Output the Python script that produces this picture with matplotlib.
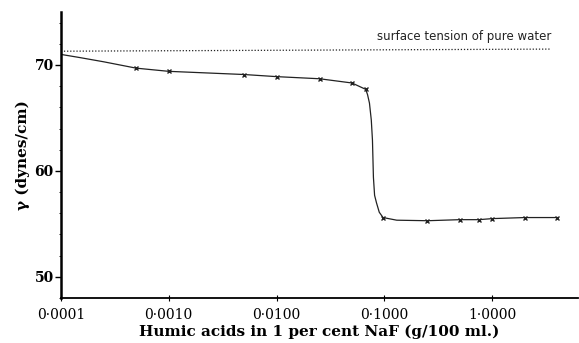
import numpy as np
import matplotlib
matplotlib.use("Agg")
from matplotlib import pyplot as plt
from matplotlib.ticker import FixedLocator, MultipleLocator

# measured points (crosses)
conc = [0.0005, 0.001, 0.005, 0.01, 0.025, 0.05, 0.067,
        0.097, 0.25, 0.5, 0.75, 1.0, 2.0, 4.0]
gamma = [69.7, 69.4, 69.1, 68.9, 68.7, 68.3, 67.7,
         55.6, 55.3, 55.4, 55.4, 55.5, 55.6, 55.6]

# hand drawn curve
curve_x = [0.0001, 0.00015, 0.00025, 0.0005, 0.001, 0.005, 0.01, 0.025, 0.05, 0.067,
           0.0697, 0.0726, 0.0755, 0.0774, 0.079, 0.081, 0.0843, 0.0895, 0.097,
           0.13, 0.25, 0.5, 0.75, 1.0, 2.0, 4.0]
curve_y = [71.0, 70.7, 70.3, 69.7, 69.4, 69.1, 68.9, 68.7, 68.3, 67.7,
           67.2, 66.4, 64.8, 62.9, 59.4, 57.7, 57.0, 56.1, 55.6,
           55.35, 55.3, 55.4, 55.4, 55.5, 55.6, 55.6]

water_x = [0.0001, 3.5]
water_y = [71.3, 71.5]

tick_vals = [0.0001, 0.001, 0.01, 0.1, 1.0]
tick_labels = ["0·0001", "0·0010", "0·0100", "0·1000", "1·0000"]

serif = ["DejaVu Serif"]

fig = plt.figure(figsize=(5.79, 3.43), dpi=100)
ax = fig.add_axes([0.105, 0.131, 0.893, 0.834])

ax.plot(water_x, water_y, linestyle=(0, (1, 1.5)), color="#222222", linewidth=0.9)
ax.plot(curve_x, curve_y, color="#222222", linewidth=0.9)
ax.plot(conc, gamma, linestyle="none", marker="x", markersize=3.5,
        markeredgewidth=1.0, color="#222222")

ax.text(3.5, 72.1, "surface tension of pure water", ha="right", va="bottom",
        fontsize=8.5, family="DejaVu Sans", color="#222222")

ax.set_xscale("log")
ax.set_xlim(0.0001, 6.2)
ax.set_ylim(48, 75)
ax.xaxis.set_major_locator(FixedLocator(tick_vals))
ax.xaxis.set_minor_locator(FixedLocator([]))
ax.set_xticks(tick_vals)
ax.set_xticklabels(tick_labels, family=serif, fontsize=10)
ax.set_yticks([50, 60, 70])
ax.set_yticklabels(["50", "60", "70"], family=serif, fontsize=10, fontweight="bold")
ax.yaxis.set_minor_locator(MultipleLocator(2))

ax.tick_params(axis="x", which="major", direction="inout", length=4, width=0.8, pad=5)
ax.tick_params(axis="y", which="major", direction="out", length=4, width=1.0, pad=1)
ax.tick_params(axis="y", which="minor", direction="out", length=1.5, width=0.6)

for side in ["top", "right"]:
    ax.spines[side].set_visible(False)
ax.spines["left"].set_linewidth(1.8)
ax.spines["bottom"].set_linewidth(1.3)

ax.set_xlabel("Humic acids in 1 per cent NaF (g/100 ml.)", family=serif,
              fontsize=11, fontweight="bold", labelpad=2)
ax.set_ylabel("γ (dynes/cm)", family=serif, fontsize=11, fontweight="bold", labelpad=3)

fig.savefig("out.png", dpi=100)
